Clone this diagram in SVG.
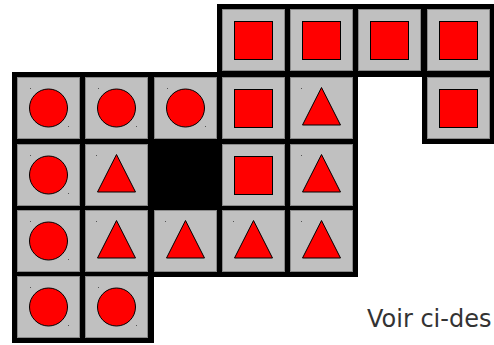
<svg xmlns="http://www.w3.org/2000/svg" xmlns:xlink="http://www.w3.org/1999/xlink" width="494" height="345" viewBox="0 0 494 345">
<style>
.frame{fill:#000}
.tile{fill:#c0c0c0;stroke:#8a8a8a;stroke-width:1}
.shape{fill:#ff0000;stroke:#000;stroke-width:1}
.dot{fill:#555}
.txt{font-family:"Comic Sans MS","DejaVu Sans",sans-serif;font-size:24px;fill:#333}
</style>
<defs>
<g id="sq"><rect class="tile" x="0.5" y="0.5" width="62" height="61"/><rect class="shape" x="12.5" y="12.5" width="38" height="38"/></g>
<g id="ci"><rect class="tile" x="0.5" y="0.5" width="62" height="61"/><circle class="shape" cx="31.5" cy="31" r="19"/><rect class="dot" x="13" y="11" width="1" height="1"/><rect class="dot" x="51" y="49" width="1" height="1"/></g>
<g id="tr"><rect class="tile" x="0.5" y="0.5" width="62" height="61"/><polygon class="shape" points="31.5,10.5 12.5,48 50.5,48"/><rect class="dot" x="11" y="11" width="1" height="1"/></g>
</defs>
<g id="frame">
<rect class="frame" x="217" y="4" width="277" height="73"/>
<rect class="frame" x="12" y="72" width="346" height="205"/>
<rect class="frame" x="422" y="72" width="72" height="72"/>
<rect class="frame" x="12" y="271" width="142" height="72"/>
</g>
<g id="connectors"/>
<g id="r0c3"><use xlink:href="#sq" x="222" y="9"/></g>
<g id="r0c4"><use xlink:href="#sq" x="290" y="9"/></g>
<g id="r0c5"><use xlink:href="#sq" x="358" y="9"/></g>
<g id="r0c6"><use xlink:href="#sq" x="427" y="9"/></g>
<g id="r1c0"><use xlink:href="#ci" x="17" y="77"/></g>
<g id="r1c1"><use xlink:href="#ci" x="85" y="77"/></g>
<g id="r1c2"><use xlink:href="#ci" x="154" y="77"/></g>
<g id="r1c3"><use xlink:href="#sq" x="222" y="77"/></g>
<g id="r1c4"><use xlink:href="#tr" x="290" y="77"/></g>
<g id="r1c6"><use xlink:href="#sq" x="427" y="77"/></g>
<g id="r2c0"><use xlink:href="#ci" x="17" y="144"/></g>
<g id="r2c1"><use xlink:href="#tr" x="85" y="144"/></g>
<g id="r2c3"><use xlink:href="#sq" x="222" y="144"/></g>
<g id="r2c4"><use xlink:href="#tr" x="290" y="144"/></g>
<g id="r3c0"><use xlink:href="#ci" x="17" y="210"/></g>
<g id="r3c1"><use xlink:href="#tr" x="85" y="210"/></g>
<g id="r3c2"><use xlink:href="#tr" x="154" y="210"/></g>
<g id="r3c3"><use xlink:href="#tr" x="222" y="210"/></g>
<g id="r3c4"><use xlink:href="#tr" x="290" y="210"/></g>
<g id="r4c0"><use xlink:href="#ci" x="17" y="276"/></g>
<g id="r4c1"><use xlink:href="#ci" x="85" y="276"/></g>
<text class="txt" x="367" y="327">Voir ci-des</text>
</svg>
